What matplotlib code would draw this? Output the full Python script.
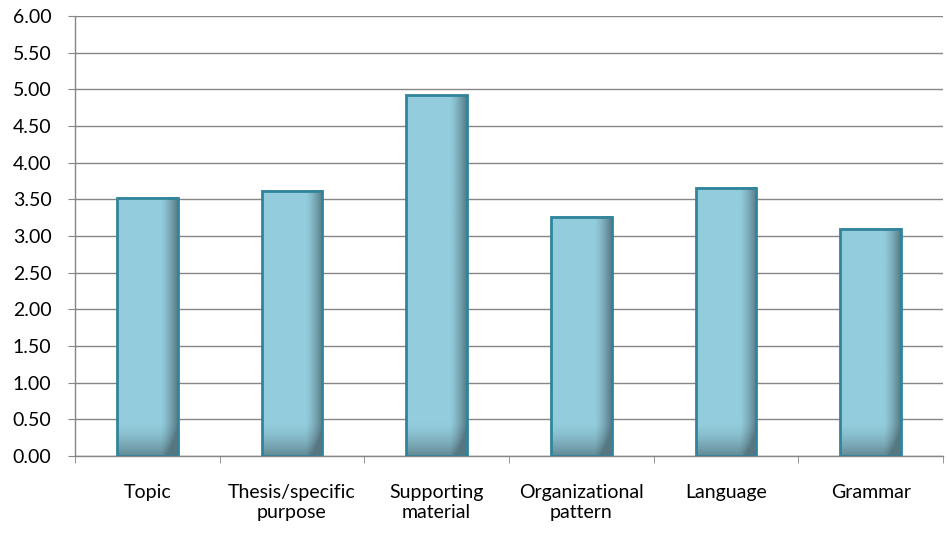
import numpy as np
import matplotlib
matplotlib.use("Agg")
import matplotlib.pyplot as plt
from matplotlib.patches import Rectangle

# data
categories = ["Topic", "Thesis/specific\npurpose", "Supporting\nmaterial",
              "Organizational\npattern", "Language", "Grammar"]
values = [3.52, 3.62, 4.92, 3.26, 3.66, 3.10]
yticks = np.arange(0, 6.01, 0.5)

plt.rcParams["font.family"] = ["Lato", "DejaVu Sans"]

fig = plt.figure(figsize=(9.48, 5.34), dpi=100)
ax = fig.add_axes([0.0791, 0.146, 0.9156, 0.824])

base = np.array([147, 205, 221]) / 255.0
dark = np.array([80, 110, 120]) / 255.0
edge = "#31849B"
width = 0.42


# shaded bar image: darker towards the right side and the bottom
def bar_image(h):
    nx, ny = 60, 200
    fx = np.linspace(0, 1, nx)
    sx = np.clip((fx - 0.72) / 0.28, 0, 1) ** 1.3
    fy = np.linspace(h, 0, ny)  # top row first
    sy = np.clip((0.45 - fy) / 0.45, 0, 1) ** 1.5
    s = np.clip(sx[None, :] * 0.85 + sy[:, None] * 0.7, 0, 0.9)
    img = base[None, None, :] * (1 - s[..., None]) + dark[None, None, :] * s[..., None]
    return img


x = np.arange(len(categories))
ax.set_xlim(-0.5, len(categories) - 0.5)
ax.set_ylim(0, 6)

for xi, v in zip(x, values):
    ax.imshow(bar_image(v), extent=(xi - width / 2, xi + width / 2, 0, v),
              aspect="auto", interpolation="bilinear", zorder=3)
    ax.add_patch(Rectangle((xi - width / 2, 0), width, v, fill=False,
                           edgecolor=edge, linewidth=2, zorder=4))

ax.set_yticks(yticks)
ax.set_yticklabels([f"{t:.2f}" for t in yticks], fontsize=14)
ax.yaxis.grid(True, color="#868686", linewidth=1)
ax.set_axisbelow(True)

ax.set_xticks(x)
ax.set_xticklabels(categories, fontsize=14, linespacing=1.25)
ax.set_xticks(np.arange(-0.5, len(categories)), minor=True)
ax.tick_params(axis="x", which="major", length=0, pad=20)
ax.tick_params(axis="x", which="minor", length=5, color="#868686", direction="out")
ax.tick_params(axis="y", length=5, color="#868686", direction="out", pad=12)

for side in ["top", "right"]:
    ax.spines[side].set_visible(False)
for side in ["left", "bottom"]:
    ax.spines[side].set_color("#868686")
    ax.spines[side].set_linewidth(1)

fig.savefig("out.png", dpi=100)
